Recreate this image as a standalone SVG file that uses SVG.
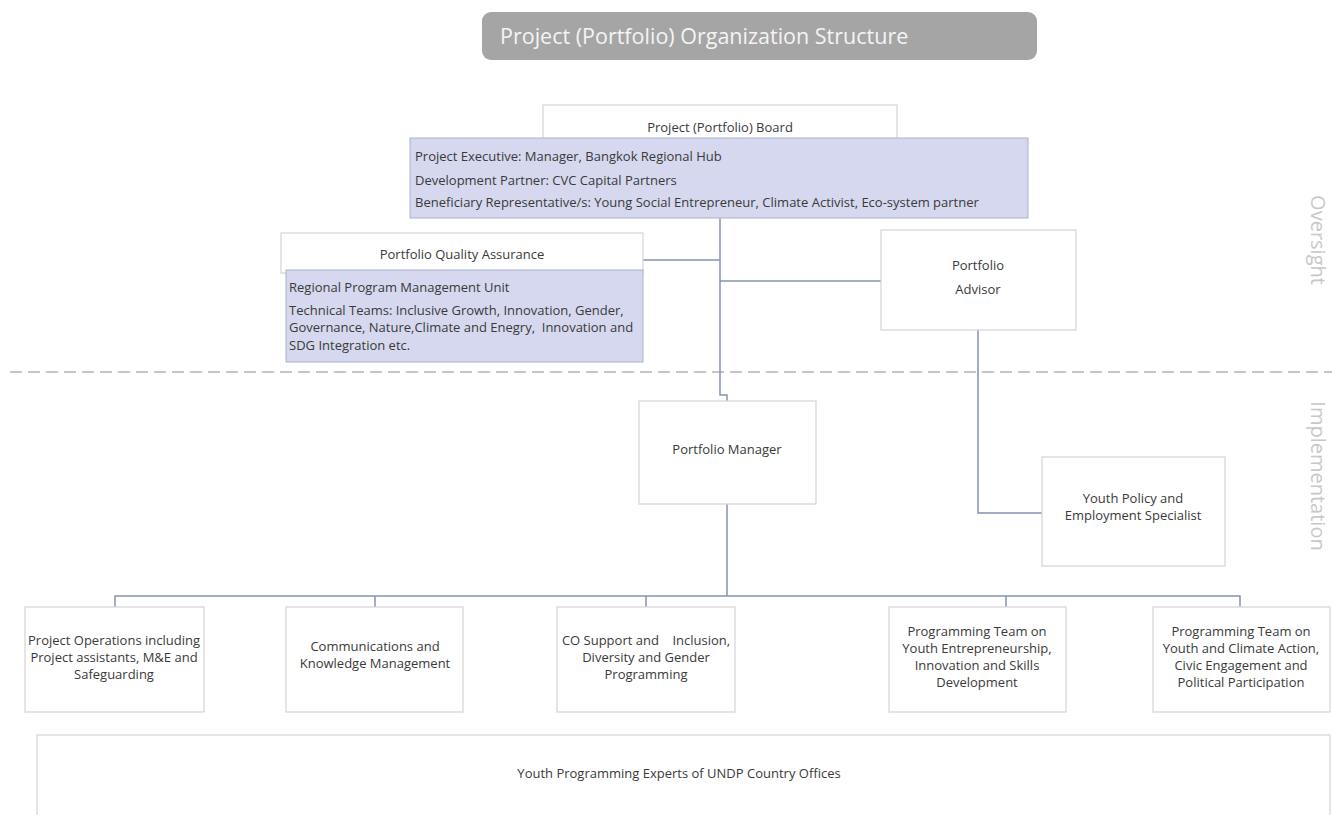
<svg xmlns="http://www.w3.org/2000/svg" width="1332" height="815" viewBox="0 0 1332 815">
<style>
.box{fill:#fff;stroke:#d4d4d4;stroke-width:1.2}
.blue{fill:#d5d8ee;stroke:#a9b2cf;stroke-width:1}
.t{font-family:"Open Sans","Liberation Sans",Arial,sans-serif;font-size:13px;fill:#3a3a3a}
.c{text-anchor:middle}
.conn{fill:none;stroke:#8593b3;stroke-width:1.5}
.side{font-family:"Open Sans","Liberation Sans",sans-serif;font-size:20px;fill:#c8c8c8;text-anchor:middle}
</style>
<rect width="1332" height="815" fill="#fff"/>
<g id="title">
<rect x="482" y="12" width="555" height="48" rx="9" fill="#a5a5a5"/>
<text x="500" y="44" font-family="Open Sans,Liberation Sans,sans-serif" font-size="21.5" fill="#f4f4f4">Project (Portfolio) Organization Structure</text>
</g>
<g id="divider">
<line x1="10" y1="372" x2="1332" y2="372" stroke="#c6c6c6" stroke-width="2" stroke-dasharray="12,6"/>
<text class="side" transform="translate(1311,240) rotate(90)">Oversight</text>
<text class="side" transform="translate(1311,476) rotate(90)">Implementation</text>
</g>
<g id="connectors">
<path class="conn" d="M720 218 V395 H727 V401"/>
<path class="conn" d="M643 260 H720"/>
<path class="conn" d="M720 281 H881"/>
<path class="conn" d="M978 330 V513 H1042"/>
<path class="conn" d="M727 504 V596"/>
<path class="conn" d="M115 607 V596 H1240 V607"/>
<path class="conn" d="M375 596 V607"/>
<path class="conn" d="M646 596 V607"/>
<path class="conn" d="M1006 596 V607"/>
</g>
<g id="board">
<rect class="box" x="543" y="105" width="354" height="70"/>
<text class="t c" x="720" y="132">Project (Portfolio) Board</text>
<rect class="blue" x="410" y="138" width="618" height="80"/>
<text class="t" x="415" y="161">Project Executive: Manager, Bangkok Regional Hub</text>
<text class="t" x="415" y="185">Development Partner: CVC Capital Partners</text>
<text class="t" x="415" y="207">Beneficiary Representative/s: Young Social Entrepreneur, Climate Activist, Eco-system partner</text>
</g>
<g id="quality">
<rect class="box" x="281" y="233" width="362" height="40"/>
<text class="t c" x="462" y="259">Portfolio Quality Assurance</text>
<rect class="blue" x="286" y="270" width="357" height="92"/>
<text class="t" x="289" y="292">Regional Program Management Unit</text>
<text class="t" x="289" y="315">Technical Teams: Inclusive Growth, Innovation, Gender,</text>
<text class="t" x="289" y="332" xml:space="preserve">Governance, Nature,Climate and Enegry,  Innovation and</text>
<text class="t" x="289" y="350">SDG Integration etc.</text>
</g>
<g id="advisor">
<rect class="box" x="881" y="230" width="195" height="100"/>
<text class="t c" x="978" y="270">Portfolio</text>
<text class="t c" x="978" y="294">Advisor</text>
</g>
<g id="manager">
<rect class="box" x="639" y="401" width="177" height="103"/>
<text class="t c" x="727" y="454">Portfolio Manager</text>
</g>
<g id="policy">
<rect class="box" x="1042" y="457" width="183" height="109"/>
<text class="t c" x="1133" y="503">Youth Policy and</text>
<text class="t c" x="1133" y="520">Employment Specialist</text>
</g>
<g id="ops">
<rect class="box" x="25" y="607" width="179" height="105"/>
<text class="t c" x="114" y="645">Project Operations including</text>
<text class="t c" x="114" y="662">Project assistants, M&amp;E and</text>
<text class="t c" x="114" y="679">Safeguarding</text>
</g>
<g id="comms">
<rect class="box" x="286" y="607" width="177" height="105"/>
<text class="t c" x="375" y="651">Communications and</text>
<text class="t c" x="375" y="668">Knowledge Management</text>
</g>
<g id="cosupport">
<rect class="box" x="557" y="607" width="178" height="105"/>
<text class="t c" x="646" y="645" xml:space="preserve">CO Support and    Inclusion,</text>
<text class="t c" x="646" y="662">Diversity and Gender</text>
<text class="t c" x="646" y="679">Programming</text>
</g>
<g id="entrepreneurship">
<rect class="box" x="889" y="607" width="177" height="105"/>
<text class="t c" x="977" y="636">Programming Team on</text>
<text class="t c" x="977" y="653">Youth Entrepreneurship,</text>
<text class="t c" x="977" y="670">Innovation and Skills</text>
<text class="t c" x="977" y="687">Development</text>
</g>
<g id="climate">
<rect class="box" x="1153" y="607" width="177" height="105"/>
<text class="t c" x="1241" y="636">Programming Team on</text>
<text class="t c" x="1241" y="653">Youth and Climate Action,</text>
<text class="t c" x="1241" y="670">Civic Engagement and</text>
<text class="t c" x="1241" y="687">Political Participation</text>
</g>
<g id="experts">
<rect class="box" x="37" y="735" width="1293" height="100"/>
<text class="t c" x="679" y="778" font-size="12">Youth Programming Experts of UNDP Country Offices</text>
</g>
</svg>
